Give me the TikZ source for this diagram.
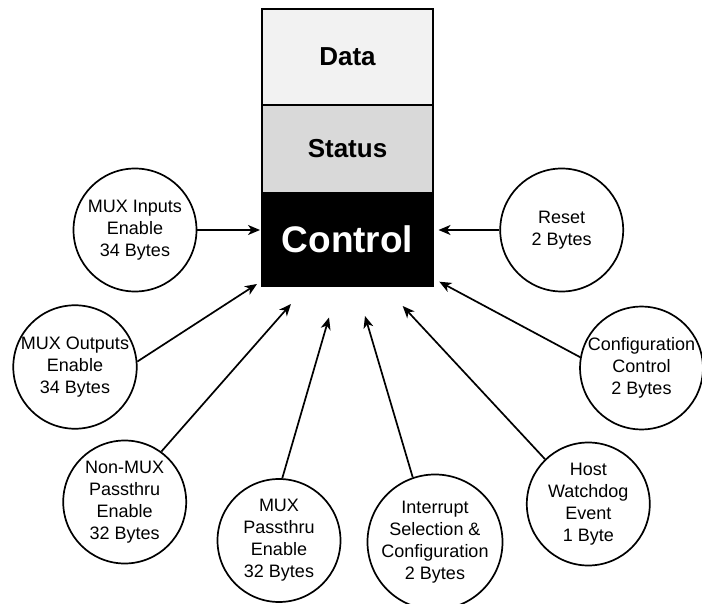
\documentclass[tikz,border=0pt]{standalone}
\usepackage{fontspec}
\setmainfont{Liberation Sans}
\usetikzlibrary{arrows.meta}
\definecolor{datafill}{HTML}{F2F2F2}
\definecolor{statusfill}{HTML}{D9D9D9}
\begin{document}
\begin{tikzpicture}[x=1pt,y=-1pt,
  part/.style={draw, line width=1.4pt, minimum width=171pt, inner sep=0pt, font=\bfseries},
  bubble/.style={draw, circle, line width=1.7pt, minimum size=123pt, inner sep=0pt, align=center,
    font=\fontsize{18}{22}\selectfont},
  arr/.style={line width=1.7pt, -{Stealth[length=12pt,width=10pt,inset=3.5pt]}}]
\useasboundingbox (0,0) rectangle (702,604);
% stacked box
\node[part, fill=datafill, minimum height=96pt, font=\bfseries\fontsize{26}{30}\selectfont] (data) at (347.5,57) {Data};
\node[part, fill=statusfill, minimum height=88pt, font=\bfseries\fontsize{26}{30}\selectfont] (status) at (347.5,149) {Status};
\node[part, fill=black, text=white, minimum height=93pt, font=\bfseries\fontsize{37}{40}\selectfont] (control) at (347.5,239.5) {Control};
% circles
\node[bubble] (mi) at (135,230) {MUX Inputs\\Enable\\34 Bytes};
\node[bubble] (mo) at (75,367) {MUX Outputs\\Enable\\34 Bytes};
\node[bubble] (nm) at (124.7,502) {Non-MUX\\Passthru\\Enable\\32 Bytes};
\node[bubble] (mp) at (279,540.5) {MUX\\Passthru\\Enable\\32 Bytes};
\node[bubble] (ir) at (435,542) {Interrupt\\Selection \&\\Configuration\\2 Bytes};
\node[bubble] (hw) at (588.3,504) {Host\\Watchdog\\Event\\1 Byte};
\node[bubble, minimum size=119pt] (cc) at (641.5,368) {Configuration\\Control\\2 Bytes};
\node[bubble] (rs) at (561.7,230) {Reset\\2 Bytes};
% arrow tips
\coordinate (tmi) at (260,230);
\coordinate (trs) at (438.5,230);
\coordinate (tmo) at (257,284);
\coordinate (tnm) at (291,304);
\coordinate (tmp) at (329,317.5);
\coordinate (tir) at (365,316);
\coordinate (thw) at (402.7,306);
\coordinate (tcc) at (439.3,281.7);
% connectors
\draw[arr] (mi.east) -- (tmi);
\draw[arr] (rs.west) -- (trs);
\draw[arr] (mo.5) -- (tmo);
\draw[arr] (nm.54.6) -- (tnm);
\draw[arr] (mp.87) -- (tmp);
\draw[arr] (ir.109) -- (tir);
\draw[arr] (hw.134) -- (thw);
\draw[arr] (cc.170) -- (tcc);
\end{tikzpicture}
\end{document}
